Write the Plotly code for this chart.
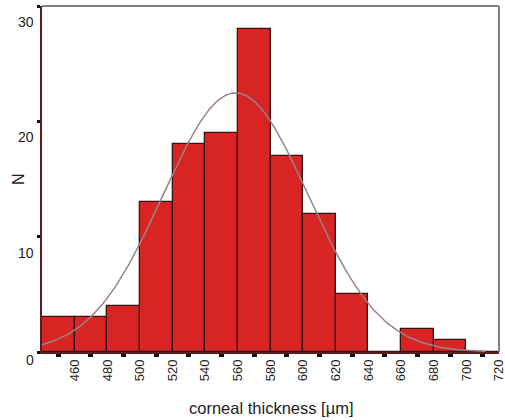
import numpy as np
import plotly.graph_objects as go

# Histogram of corneal thickness, 20 µm bins from 440 to 720
bin_left = [440, 460, 480, 500, 520, 540, 560, 580, 600, 620, 640, 660, 680, 700]
counts = [3, 3, 4, 13, 18, 19, 28, 17, 12, 5, 0, 2, 1, 0]
bin_width = 20

x_tick_labels = ["460", "480", "500", "520", "540", "560", "580", "600",
                 "620", "640", "660", "680", "700", "720"]
y_tick_values = [0, 10, 20, 30]

centers = [b + bin_width / 2 for b in bin_left]
edges_labelled = [int(t) for t in x_tick_labels]

# Fitted normal curve from the grouped data
c = np.array(counts, dtype=float)
m = np.array(centers, dtype=float)
n_total = c.sum()
mean = (c * m).sum() / n_total
sd = np.sqrt((c * (m - mean) ** 2).sum() / (n_total - 1))
xs = np.linspace(440, 712, 300)
ys = n_total * bin_width / (sd * np.sqrt(2 * np.pi)) * np.exp(-0.5 * ((xs - mean) / sd) ** 2)

FONT = "Liberation Sans, Arial, Helvetica, sans-serif"
AXIS_DARK = "#5a1c1c"
BORDER = "#7f7f7f"
TEXT = "#1e1e1e"

fig = go.Figure()
fig.add_trace(go.Bar(
    x=centers, y=counts, width=bin_width,
    marker=dict(color="#d92424", line=dict(color="#3a1212", width=1.3)),
    hoverinfo="skip", showlegend=False,
))
fig.add_trace(go.Scatter(
    x=xs, y=ys, mode="lines",
    line=dict(color="#9a8288", width=1.5),
    hoverinfo="skip", showlegend=False,
))
# invisible trace so the labelled overlay axis is drawn
fig.add_trace(go.Scatter(x=[440, 720], y=[0, 0], xaxis="x2", mode="lines",
                         line=dict(width=0), hoverinfo="skip", showlegend=False))

fig.update_layout(
    width=505, height=420,
    margin=dict(l=42, r=6, t=6, b=68, autoexpand=False),
    paper_bgcolor="white", plot_bgcolor="white",
    bargap=0,
    font=dict(family=FONT, color=TEXT),
    xaxis=dict(
        range=[440, 720], tickmode="array", tickvals=centers,
        showticklabels=False, ticks="outside", ticklen=3, tickwidth=5,
        tickcolor="#111111", showline=True, linecolor=AXIS_DARK, linewidth=2,
        showgrid=False, zeroline=False, fixedrange=True, automargin=False,
    ),
    xaxis2=dict(
        overlaying="x", anchor="y", side="bottom", matches="x",
        range=[440, 720], tickmode="array", tickvals=edges_labelled,
        ticktext=x_tick_labels, ticks="", tickangle=-90,
        tickfont=dict(size=13, family=FONT, color=TEXT),
        ticklabeloverflow="allow", automargin=False,
        showline=False, showgrid=False, zeroline=False, ticklabelstandoff=4,
    ),
    yaxis=dict(
        range=[0, 30], tickmode="array", tickvals=y_tick_values,
        showticklabels=False, ticks="outside", ticklen=3, tickwidth=3,
        tickcolor="#111111", showline=True, linecolor=AXIS_DARK, linewidth=2,
        showgrid=False, zeroline=False, fixedrange=True, automargin=False,
    ),
)

# top and right frame lines
fig.add_shape(type="line", xref="paper", yref="paper", x0=0, x1=1, y0=1, y1=1,
              line=dict(color=BORDER, width=2))
fig.add_shape(type="line", xref="paper", yref="paper", x0=1, x1=1, y0=0, y1=1,
              line=dict(color=BORDER, width=2))

# y tick labels, set slightly below their tick marks
for v in y_tick_values:
    fig.add_annotation(
        x=0, xref="paper", y=v, yref="y", text=str(v), showarrow=False,
        xanchor="right", yanchor="middle", xshift=-6,
        yshift=-8 if v == 0 else -16,
        font=dict(size=14, family=FONT, color=TEXT),
    )

# axis titles
fig.add_annotation(x=0, xref="paper", y=0.5, yref="paper", text="N",
                   showarrow=False, textangle=-90, xanchor="center",
                   yanchor="middle", xshift=-24,
                   font=dict(size=16, family=FONT, color=TEXT))
fig.add_annotation(x=0.5, xref="paper", y=0, yref="paper",
                   text="corneal thickness [µm]", showarrow=False,
                   xanchor="center", yanchor="middle", yshift=-56,
                   font=dict(size=16.5, family=FONT, color=TEXT))

fig.write_html("out.html")
